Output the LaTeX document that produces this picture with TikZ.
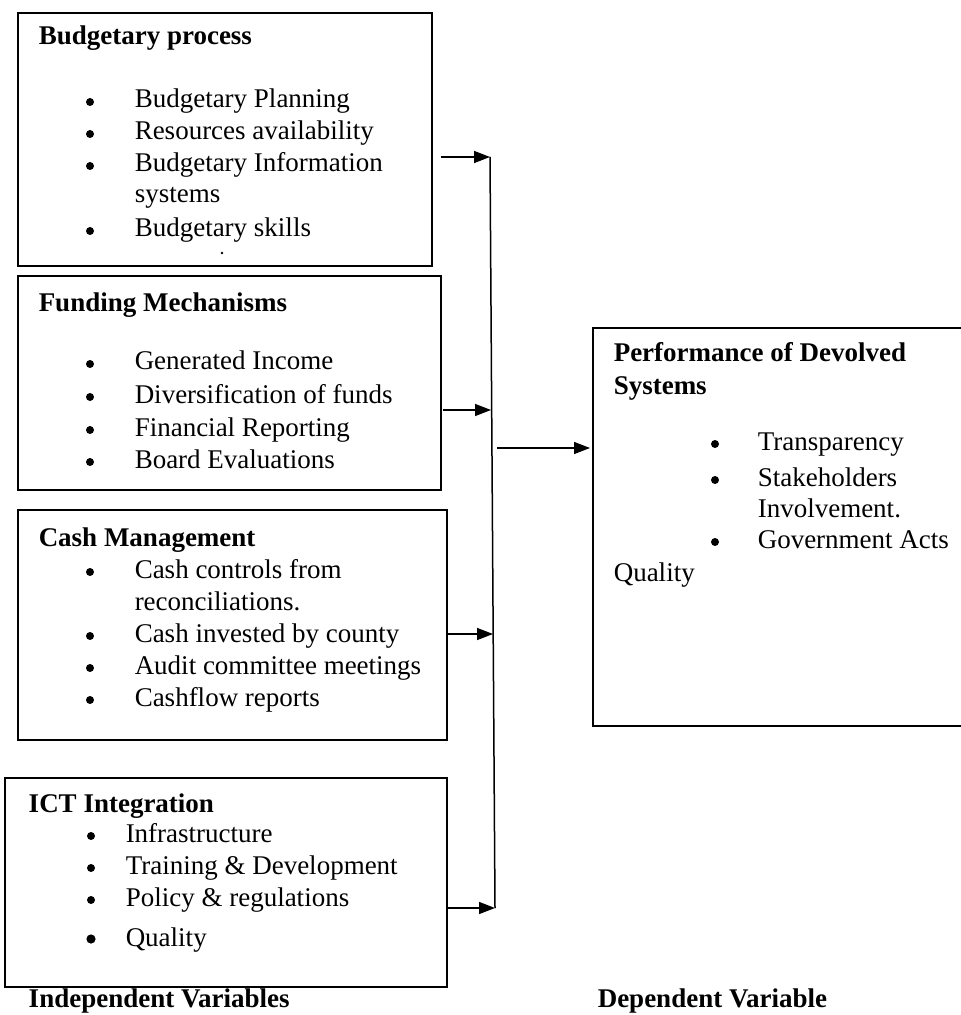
\documentclass[tikz,border=0pt]{standalone}
\usepackage{fontspec}
\setmainfont{Liberation Serif}
\usetikzlibrary{arrows.meta}
\usetikzlibrary{fit}

\begin{document}
\begin{tikzpicture}[x=0.5pt, y=-0.5pt, line width=0.75pt, >={Triangle[length=8pt, width=6pt]}]
  \tikzset{box/.style={draw, rectangle, inner sep=0pt},
           line/.style={anchor=base west, inner sep=0pt, font=\fontsize{13.5}{16}\selectfont},
           head/.style={line, font=\fontsize{13.5}{16}\selectfont\bfseries}}
  \useasboundingbox (0,0) rectangle (960,1015);

  %--- boxes ---
  \node[box, fit={(18,13) (432,266)}] (b1) {};
  \node[box, fit={(18,276) (441,490)}] (b2) {};
  \node[box, fit={(18,510) (447,740)}] (b3) {};
  \node[box, fit={(5,778) (447,987)}] (b4) {};
  \node[box, fit={(593,328) (962,726)}] (perf) {};

  %--- budgetary process ---
  \node[head] (h1) at (38,45) {Budgetary process};
  \node[line] (p1) at (134,108) {Budgetary Planning};
  \node[line] (p2) at (134,140) {Resources availability};
  \node[line] (p3) at (134,172) {Budgetary Information};
  \node[line] (p4) at (134,203) {systems};
  \node[line] (p5) at (134,237) {Budgetary skills};
  \fill (222,253) circle (1.3);

  %--- funding mechanisms ---
  \node[head] (h2) at (38,312) {Funding Mechanisms};
  \node[line] (f1) at (134,370) {Generated Income};
  \node[line] (f2) at (134,403) {Diversification of funds};
  \node[line] (f3) at (134,436) {Financial Reporting};
  \node[line] (f4) at (134,468) {Board Evaluations};

  %--- cash management ---
  \node[head] (h3) at (38,546) {Cash Management};
  \node[line] (c1) at (134,578) {Cash controls from};
  \node[line] (c2) at (134,610) {reconciliations.};
  \node[line] (c3) at (134,642) {Cash invested by county};
  \node[line] (c4) at (134,674) {Audit committee meetings};
  \node[line] (c5) at (134,706) {Cashflow reports};

  %--- ict integration ---
  \node[head] (h4) at (28,812) {ICT Integration};
  \node[line] (i1) at (125,842) {Infrastructure};
  \node[line] (i2) at (125,874) {Training \& Development};
  \node[line] (i3) at (125,906) {Policy \& regulations};
  \node[line] (i4) at (125,946) {Quality};

  %--- performance ---
  \node[head] (h5) at (613,362) {Performance of Devolved};
  \node[head] (h6) at (613,394) {Systems};
  \node[line] (r1) at (757,450) {Transparency};
  \node[line] (r2) at (757,486) {Stakeholders};
  \node[line] (r3) at (757,517) {Involvement.};
  \node[line] (r4) at (757,548) {Government Acts};
  \node[line] (r5) at (613,581) {Quality};

  %--- bullets ---
  \fill (90,102) circle (4);  \fill (90,134) circle (4);
  \fill (90,166) circle (4);  \fill (90,231) circle (4);
  \fill (90,364) circle (4);  \fill (90,397) circle (4);
  \fill (90,430) circle (4);  \fill (90,462) circle (4);
  \fill (90,572) circle (4);  \fill (90,636) circle (4);
  \fill (90,668) circle (4);  \fill (90,700) circle (4);
  \fill (91,836) circle (4);  \fill (91,868) circle (4);
  \fill (91,900) circle (4);  \fill (91,939) circle (4.6);
  \fill (715,444) circle (4); \fill (715,480) circle (4);
  \fill (715,542) circle (4);

  %--- captions ---
  \node[head] (l1) at (28,1007) {Independent Variables};
  \node[head] (l2) at (597,1007) {Dependent Variable};

  %--- connectors ---
  \coordinate (s1) at (441,157);  \coordinate (e1) at (490,157);
  \coordinate (s2) at (443,410);  \coordinate (e2) at (491,410);
  \coordinate (s3) at (448,634);  \coordinate (e3) at (493,634);
  \coordinate (s4) at (448,908);  \coordinate (e4) at (495,908);
  \coordinate (s5) at (497,448);  \coordinate (e5) at (590,448);

  \draw[->] (s1) -- (e1);
  \draw[->] (s2) -- (e2);
  \draw[->] (s3) -- (e3);
  \draw[->] (s4) -- (e4);
  \draw (e1) -- (e4);
  \draw[->] (s5) -- (e5);
\end{tikzpicture}
\end{document}
